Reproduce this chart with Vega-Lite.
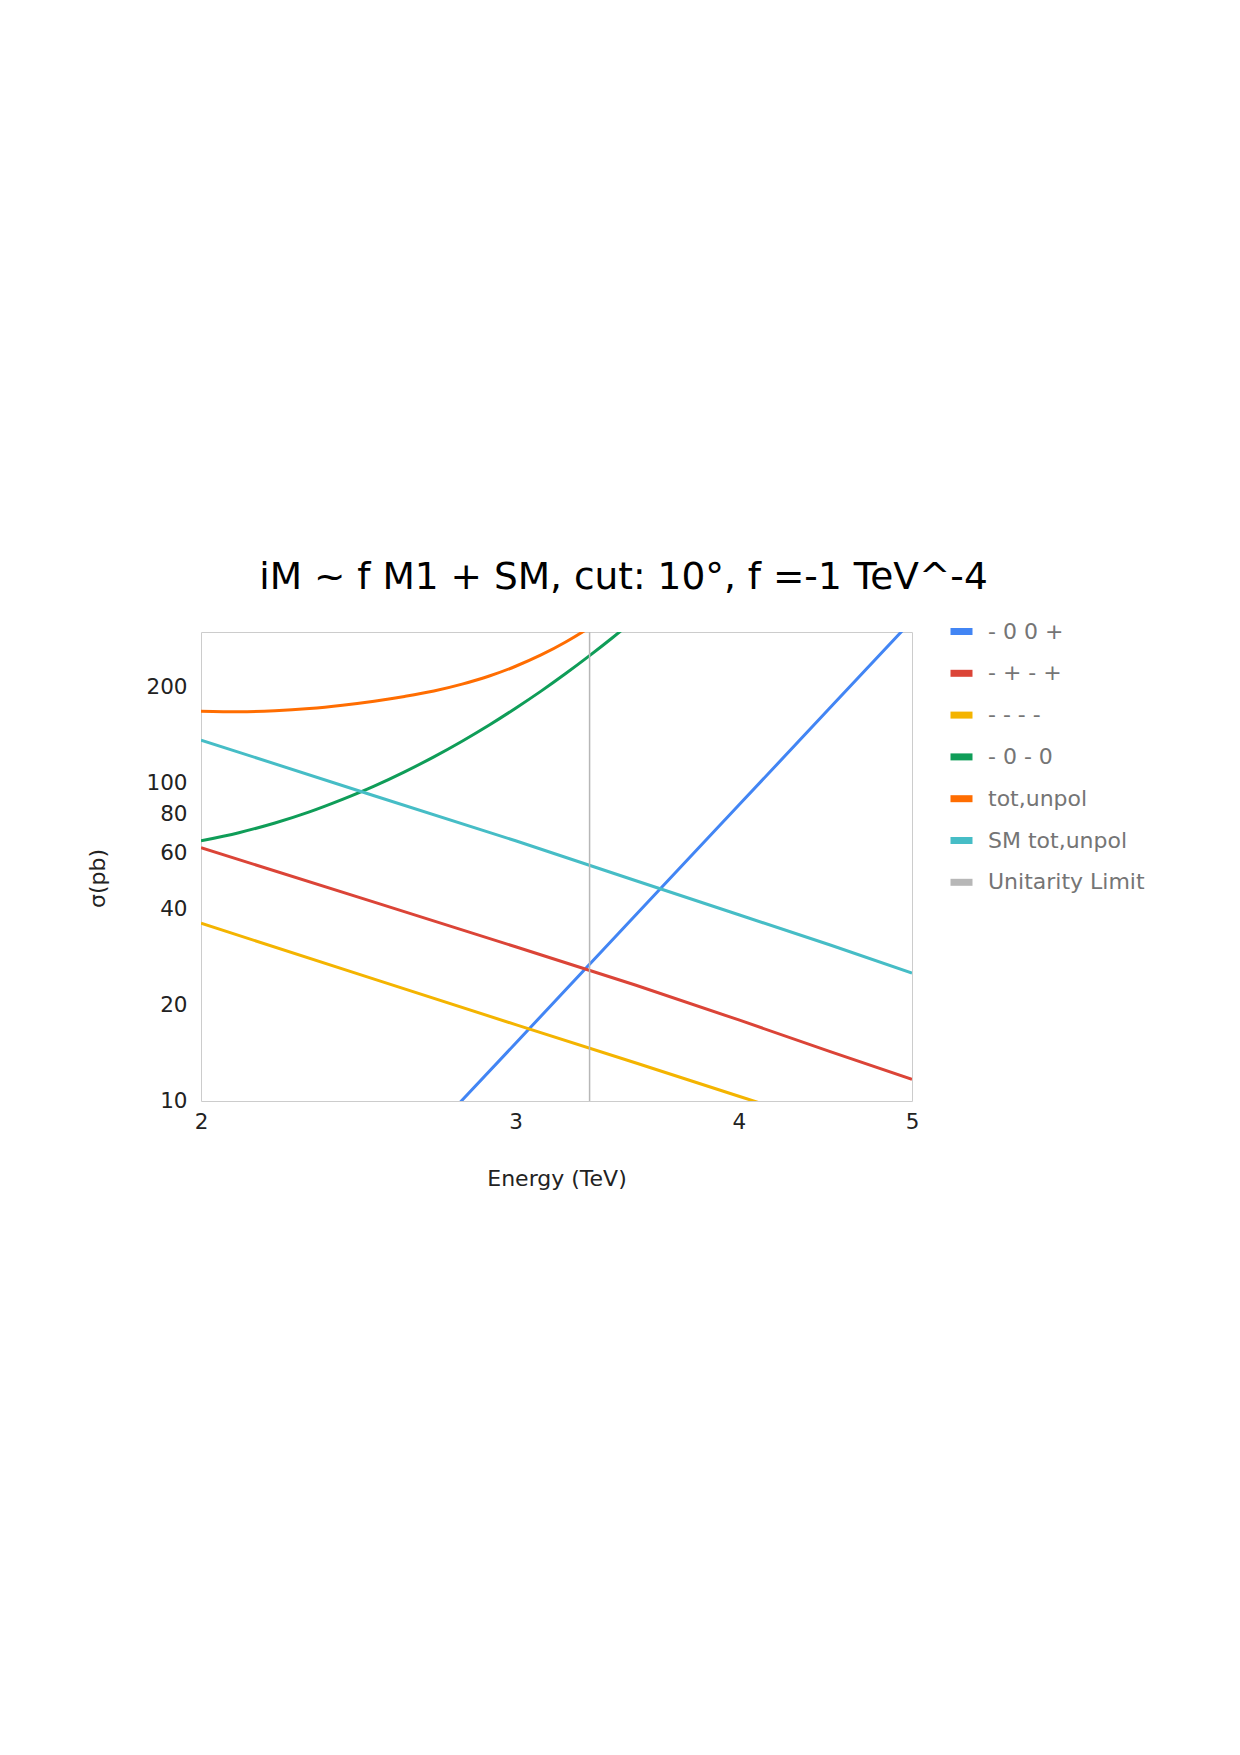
{
  "$schema": "https://vega.github.io/schema/vega-lite/v6.json",
  "autosize": {"type": "none"},
  "padding": {"left": 201, "top": 632, "right": 328, "bottom": 654},
  "width": 711,
  "height": 469,
  "background": "white",
  "config": {
    "font": "DejaVu Sans",
    "view": {"stroke": "#cccccc", "strokeWidth": 1}
  },
  "title": {
    "text": "iM ~ f M1 + SM, cut: 10°, f =-1 TeV^-4",
    "font": "DejaVu Sans",
    "fontSize": 37.5,
    "fontWeight": "normal",
    "color": "#000000",
    "anchor": "middle",
    "dx": 67,
    "offset": 21
  },
  "data": {
    "values": [
      {"E": 2.7, "s": 8.09, "series": "- 0 0 +"},
      {"E": 3.0, "s": 15.2, "series": "- 0 0 +"},
      {"E": 3.5, "s": 38.4, "series": "- 0 0 +"},
      {"E": 4.0, "s": 85.5, "series": "- 0 0 +"},
      {"E": 4.5, "s": 173.4, "series": "- 0 0 +"},
      {"E": 5.0, "s": 326.3, "series": "- 0 0 +"},
      {"E": 2.0, "s": 62.8, "series": "- + - +"},
      {"E": 2.5, "s": 42.3, "series": "- + - +"},
      {"E": 3.0, "s": 30.6, "series": "- + - +"},
      {"E": 3.5, "s": 23.2, "series": "- + - +"},
      {"E": 4.0, "s": 18.0, "series": "- + - +"},
      {"E": 4.5, "s": 14.3, "series": "- + - +"},
      {"E": 5.0, "s": 11.7, "series": "- + - +"},
      {"E": 2.0, "s": 36.3, "series": "- - - -"},
      {"E": 2.5, "s": 24.2, "series": "- - - -"},
      {"E": 3.0, "s": 17.4, "series": "- - - -"},
      {"E": 3.5, "s": 13.2, "series": "- - - -"},
      {"E": 4.0, "s": 10.35, "series": "- - - -"},
      {"E": 4.5, "s": 8.37, "series": "- - - -"},
      {"E": 5.0, "s": 6.94, "series": "- - - -"},
      {"E": 2.0, "s": 66.0, "series": "- 0 - 0"},
      {"E": 2.1, "s": 70.0, "series": "- 0 - 0"},
      {"E": 2.2, "s": 75.1, "series": "- 0 - 0"},
      {"E": 2.3, "s": 81.4, "series": "- 0 - 0"},
      {"E": 2.4, "s": 89.1, "series": "- 0 - 0"},
      {"E": 2.5, "s": 98.1, "series": "- 0 - 0"},
      {"E": 2.6, "s": 108.8, "series": "- 0 - 0"},
      {"E": 2.7, "s": 121.3, "series": "- 0 - 0"},
      {"E": 2.8, "s": 135.9, "series": "- 0 - 0"},
      {"E": 2.9, "s": 152.8, "series": "- 0 - 0"},
      {"E": 3.0, "s": 172.6, "series": "- 0 - 0"},
      {"E": 3.1, "s": 195.4, "series": "- 0 - 0"},
      {"E": 3.2, "s": 221.9, "series": "- 0 - 0"},
      {"E": 3.3, "s": 252.7, "series": "- 0 - 0"},
      {"E": 3.4, "s": 288.3, "series": "- 0 - 0"},
      {"E": 3.5, "s": 329.4, "series": "- 0 - 0"},
      {"E": 2.0, "s": 169.0, "series": "tot,unpol"},
      {"E": 2.1, "s": 168.3, "series": "tot,unpol"},
      {"E": 2.2, "s": 169.5, "series": "tot,unpol"},
      {"E": 2.3, "s": 172.3, "series": "tot,unpol"},
      {"E": 2.4, "s": 176.5, "series": "tot,unpol"},
      {"E": 2.5, "s": 181.7, "series": "tot,unpol"},
      {"E": 2.6, "s": 188.0, "series": "tot,unpol"},
      {"E": 2.7, "s": 195.5, "series": "tot,unpol"},
      {"E": 2.8, "s": 205.5, "series": "tot,unpol"},
      {"E": 2.9, "s": 218.0, "series": "tot,unpol"},
      {"E": 3.0, "s": 234.0, "series": "tot,unpol"},
      {"E": 3.1, "s": 254.0, "series": "tot,unpol"},
      {"E": 3.2, "s": 279.0, "series": "tot,unpol"},
      {"E": 3.3, "s": 310.0, "series": "tot,unpol"},
      {"E": 3.4, "s": 348.0, "series": "tot,unpol"},
      {"E": 2.0, "s": 137, "series": "SM tot,unpol"},
      {"E": 2.5, "s": 91.5, "series": "SM tot,unpol"},
      {"E": 3.0, "s": 66, "series": "SM tot,unpol"},
      {"E": 3.5, "s": 49.5, "series": "SM tot,unpol"},
      {"E": 4.0, "s": 38.6, "series": "SM tot,unpol"},
      {"E": 4.5, "s": 31, "series": "SM tot,unpol"},
      {"E": 5.0, "s": 25.3, "series": "SM tot,unpol"},
      {"E": 3.3, "s": 10, "series": "Unitarity Limit"},
      {"E": 3.3, "s": 300, "series": "Unitarity Limit"}
    ]
  },
  "encoding": {
    "x": {
      "field": "E",
      "type": "quantitative",
      "scale": {"type": "log", "domain": [2, 5], "nice": false},
      "axis": {
        "title": "Energy (TeV)",
        "values": [2, 3, 4, 5],
        "format": "d",
        "grid": false,
        "domain": false,
        "ticks": false,
        "labelFlush": false,
        "labelFontSize": 21.5,
        "labelColor": "#222222",
        "labelPadding": 10,
        "titleFontSize": 22,
        "titleFontWeight": "normal",
        "titleColor": "#222222",
        "titlePadding": 36
      }
    },
    "y": {
      "field": "s",
      "type": "quantitative",
      "scale": {"type": "log", "domain": [10, 300], "nice": false},
      "axis": {
        "title": "σ(pb)",
        "values": [10, 20, 40, 60, 80, 100, 200],
        "format": "d",
        "grid": false,
        "domain": false,
        "ticks": false,
        "labelFontSize": 21.5,
        "labelColor": "#222222",
        "labelPadding": 14,
        "titleFontSize": 22,
        "titleFontWeight": "normal",
        "titleColor": "#222222",
        "titlePadding": 36,
        "titleY": 246
      }
    },
    "color": {
      "field": "series",
      "type": "nominal",
      "scale": {
        "domain": ["- 0 0 +", "- + - +", "- - - -", "- 0 - 0", "tot,unpol", "SM tot,unpol", "Unitarity Limit"],
        "range": ["#4285F4", "#DB4437", "#F4B400", "#0F9D58", "#FF6D01", "#46BDC6", "#B7B7B7"]
      },
      "legend": {
        "title": null,
        "orient": "none",
        "legendX": 746,
        "legendY": -15,
        "symbolType": "stroke",
        "symbolSize": 484,
        "symbolStrokeWidth": 7,
        "labelFontSize": 22,
        "labelColor": "#757575",
        "labelOffset": 12,
        "rowPadding": 12.8
      }
    }
  },
  "layer": [
    {
      "transform": [{"filter": "datum.series === '- 0 - 0' || datum.series === 'tot,unpol'"}],
      "mark": {"type": "line", "strokeWidth": 3, "interpolate": "monotone", "clip": true}
    },
    {
      "transform": [{"filter": "datum.series === '- 0 0 +' || datum.series === '- + - +' || datum.series === '- - - -' || datum.series === 'SM tot,unpol'"}],
      "mark": {"type": "line", "strokeWidth": 3, "clip": true}
    },
    {
      "transform": [{"filter": "datum.series === 'Unitarity Limit'"}],
      "mark": {"type": "line", "strokeWidth": 1.5, "clip": true}
    }
  ]
}
